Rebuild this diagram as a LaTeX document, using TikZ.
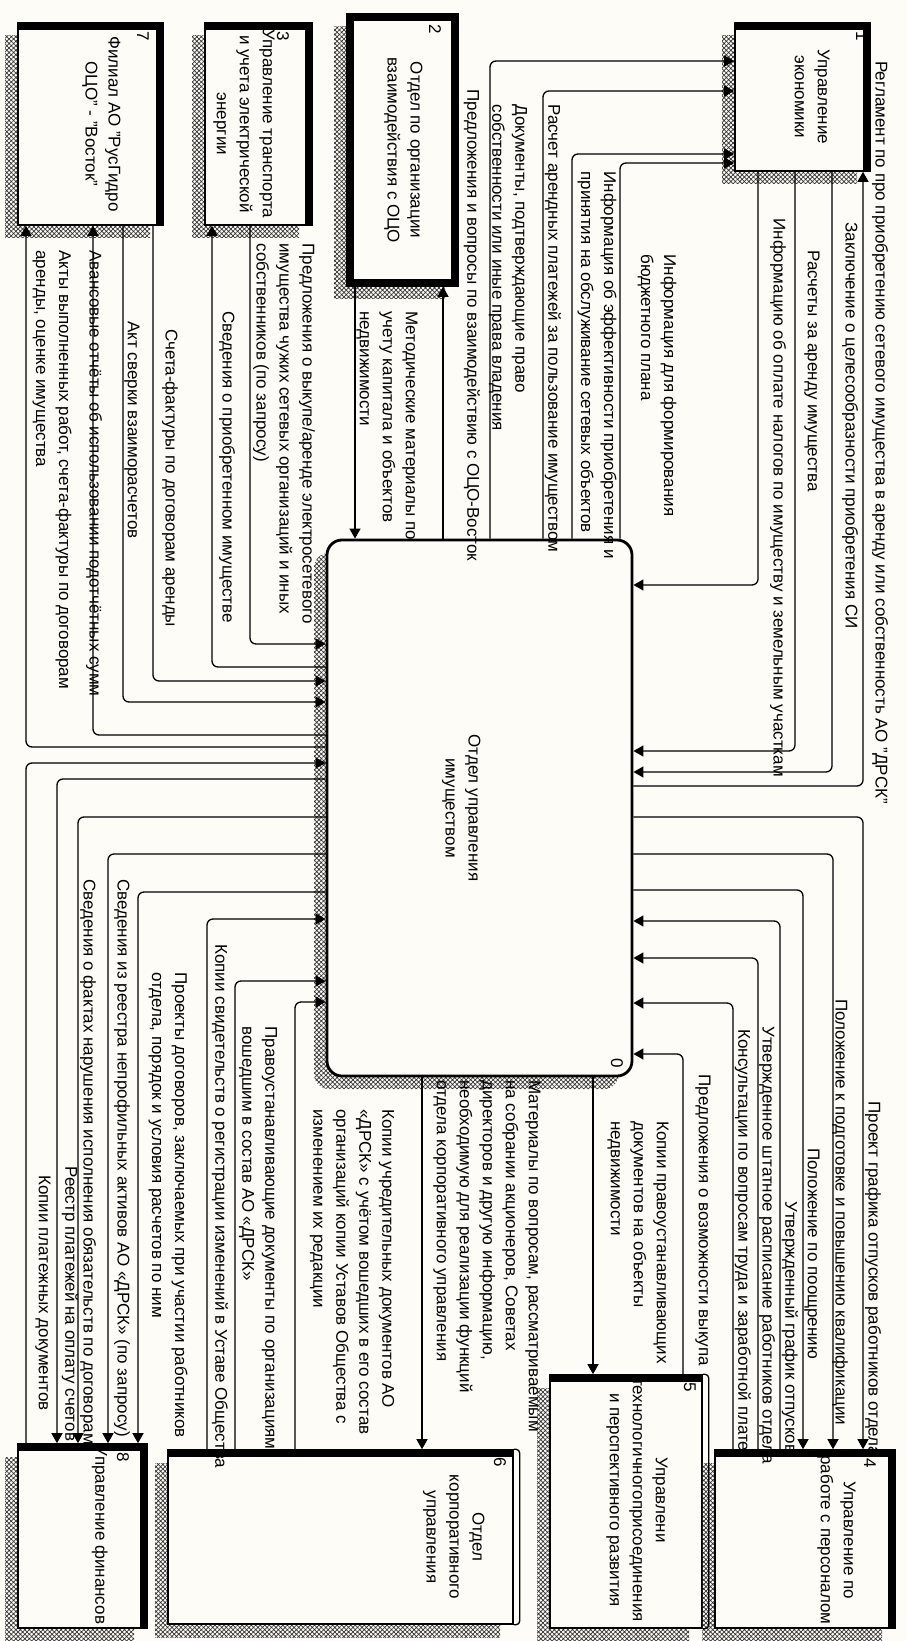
\documentclass[tikz,border=0pt]{standalone}
\usepackage{fontspec}
\setmainfont{Liberation Sans}
\usetikzlibrary{arrows.meta,fit,shadows,patterns.meta}
\definecolor{paper}{RGB}{253,252,246}

\begin{document}
\begin{tikzpicture}[x=0.5pt, y=-0.5pt,
    font=\fontsize{8.5}{11.5}\selectfont,
    box/.style={draw, line width=0.8pt, fill=paper, inner sep=0pt,
      general shadow={shadow xshift=-6.5pt, shadow yshift=-6.5pt,
        pattern={Hatch[angle=45,distance=1.6pt,line width=0.35pt]}, pattern color=black!80}},
    heavy/.style={path picture={\draw[line width=7pt] (path picture bounding box.north west)
        -- (path picture bounding box.north east) -- (path picture bounding box.south east);}},
    heavyall/.style={path picture={\draw[line width=7pt] (path picture bounding box.north west)
        rectangle (path picture bounding box.south east);}},
    heavytop/.style={path picture={\draw[line width=7pt] (path picture bounding box.north west)
        -- (path picture bounding box.north east);}},
    btxt/.style={rotate=-90, anchor=north, align=center, inner sep=0pt},
    lab/.style={rotate=-90, anchor=west, align=left, inner sep=0pt},
    num/.style={rotate=-90, inner sep=0pt},
    ln/.style={line width=0.65pt, rounded corners=3pt},
    arr/.style={ln, -{Triangle[length=5pt,width=5.5pt]}}
]
\useasboundingbox[fill=paper] (0,0) rectangle (907,1641);

% boxes
\node[box, heavy, fit={(18,23) (163,225)}] (b7) {};
\node[box, heavy, fit={(205,23) (312,225)}] (b3) {};
\node[box, heavyall, fit={(347,14) (458,286)}] (b2) {};
\node[box, heavy, fit={(735,23) (870,171)}] (b1) {};
\node[box, line width=1.4pt, rounded corners=7.5pt, fit={(327,540) (632,1076)}] (b0) {};
\node[box, heavytop, fit={(550,1375) (702,1628)}] (b5) {};
\node[box, heavy, fit={(715,1450) (895,1628)}] (b4) {};
\node[box, heavytop, fit={(168,1450) (513,1624)}] (b6) {};
\node[box, heavy, fit={(18,1444) (147,1628)}] (b8) {};
\draw[ln, rounded corners=2pt] (b5.north east) -| ([xshift=3pt]b5.south east) -- (b5.south east);
\draw[ln, rounded corners=2pt] (b6.north east) -| ([xshift=3pt]b6.south east) -- (b6.south east);

\node[btxt] (tb7) at (121,124) {Филиал АО "РусГидро\\ОЦО" - "Восток"};
\node[btxt] (tb3) at (275,124) {Управление транспорта\\и учета электрической\\энергии};
\node[btxt] (tb2) at (423,150) {Отдел по организации\\взаимодействия с ОЦО};
\node[btxt] (tb1) at (830,97) {Управление\\экономики};
\node[btxt] (tb0) at (481,808) {Отдел управления\\имуществом};
\node[btxt] (tb5) at (668,1500) {Управлени\\технологичногоприсоединения\\и перспективного развития};
\node[btxt] (tb4) at (856,1540) {Управление по\\работе с персоналом};
\node[btxt] (tb6) at (485,1537) {Отдел\\корпоративного\\управления};
\node[btxt] (tb8) at (108,1535) {Управление финансов};

\node[num] (n7) at (143,36) {7};
\node[num] (n3) at (283,36) {3};
\node[num] (n2) at (435,29) {2};
\node[num] (n1) at (862,36) {1};
\node[num] (n0) at (617,1063) {0};
\node[num] (n5) at (690,1387) {5};
\node[num] (n4) at (870,1463) {4};
\node[num] (n6) at (500,1462) {6};
\node[num] (n8) at (123,1457) {8};

% box 0 <-> box 1, box 2
\draw[arr] (b0.north -| 490,0) -- (490,61) -- (b1.west |- 0,61);
\draw[arr] (b0.north -| 543,0) -- (543,91) -- (b1.west |- 0,91);
\draw[arr] (b0.north -| 572,0) -- (572,154) -- (b1.west |- 0,154);
\draw[arr] (b0.north -| 620,0) -- (620,163) -- (b1.west |- 0,163);
\draw[arr] (b0.east |- 0,786) -- (863,786) -- (b1.south -| 863,0);
\draw[arr] (b1.south -| 832,0) -- (832,772) -- (b0.east |- 0,772);
\draw[arr] (b1.south -| 795,0) -- (795,751) -- (b0.east |- 0,751);
\draw[arr] (b1.south -| 758,0) -- (758,585) -- (b0.east |- 0,585);
\draw[arr] (b0.north -| 443,0) -- (b2.south -| 443,0);
\draw[arr] (b2.south -| 355,0) -- (b0.north -| 355,0);

% box 0 <-> box 3, box 7
\draw[arr] (b3.south -| 250,0) -- (250,644) -- (b0.west |- 0,644);
\draw[arr] (b0.west |- 0,667) -- (212,667) -- (b3.south -| 212,0);
\draw[arr] (b7.south -| 153,0) -- (153,681) -- (b0.west |- 0,681);
\draw[arr] (b7.south -| 123,0) -- (123,702) -- (b0.west |- 0,702);
\draw[arr] (b0.west |- 0,735) -- (93,735) -- (b7.south -| 93,0);
\draw[arr] (b0.west |- 0,747) -- (26,747) -- (b7.south -| 26,0);

% box 0 <-> box 8, box 6
\draw[arr] (b8.north -| 26,0) -- (26,763) -- (b0.west |- 0,763);
\draw[arr] (b0.west |- 0,779) -- (57,779) -- (b8.north -| 57,0);
\draw[arr] (b0.west |- 0,817) -- (78,817) -- (b8.north -| 78,0);
\draw[arr] (b0.west |- 0,854) -- (108,854) -- (b8.north -| 108,0);
\draw[arr] (b0.west |- 0,892) -- (138,892) -- (b8.north -| 138,0);
\draw[arr] (b6.north -| 207,0) -- (207,919) -- (b0.west |- 0,919);
\draw[arr] (b6.north -| 235,0) -- (235,981) -- (b0.west |- 0,981);
\draw[arr] (b6.north -| 295,0) -- (295,1002) -- (b0.west |- 0,1002);
\draw[arr] (b0.south -| 422,0) -- (b6.north -| 422,0);

% box 0 <-> box 5, box 4
\draw[arr] (b0.south -| 593,0) -- (b5.north -| 593,0);
\draw[arr] (b5.north -| 683,0) -- (683,1054) -- (b0.east |- 0,1054);
\draw[arr] (b0.east |- 0,817) -- (863,817) -- (b4.north -| 863,0);
\draw[arr] (b0.east |- 0,854) -- (833,854) -- (b4.north -| 833,0);
\draw[arr] (b0.east |- 0,890) -- (803,890) -- (b4.north -| 803,0);
\draw[arr] (b4.north -| 780,0) -- (780,921) -- (b0.east |- 0,921);
\draw[arr] (b4.north -| 758,0) -- (758,958) -- (b0.east |- 0,958);
\draw[arr] (b4.north -| 733,0) -- (733,1003) -- (b0.east |- 0,1003);

% labels
\node[lab] (l1) at (472,89) {Предложения и вопросы по взаимодействию с ОЦО-Восток};
\node[lab] (l2) at (508,104) {Документы, подтверждающие право\\собственности или иные права владения};
\node[lab] (l3) at (553,104) {Расчет арендных платежей за пользование имуществом};
\node[lab] (l4) at (597,171) {Информация об эффективности приобретения и\\принятия на обслуживание сетевых объектов};
\node[lab] (l5) at (657,254) {Информация для формирования\\бюджетного плана};
\node[lab] (l6) at (880,61) {Регламент по про приобретению сетевого имущества в аренду или собственность АО "ДРСК"};
\node[lab] (l7) at (850,222) {Заключение о целесообразности приобретения СИ};
\node[lab] (l8) at (812,250) {Расчеты за аренду имущества};
\node[lab] (l9) at (778,218) {Информацию об оплате налогов по имуществу и земельным участкам};
\node[lab] (l10) at (387,311) {Методические материалы по\\учету капитала и объектов\\недвижимости};
\node[lab] (l11) at (284,243) {Предложения о выкупе/аренде электросетевого\\имущества чужих сетевых организаций и иных\\собственников (по запросу)};
\node[lab] (l12) at (227,311) {Сведения о приобретенном имуществе};
\node[lab] (l13) at (170,329) {Счета-фактуры по договорам аренды};
\node[lab] (l14) at (132,321) {Акт сверки взаиморасчетов};
\node[lab] (l15) at (94,250) {Авансовые отчёты об использовании подотчётных сумм};
\node[lab] (l16) at (52,250) {Акты выполненных работ, счета-фактуры по договорам\\аренды, оценке имущества};
\node[lab] (l17) at (43,1175) {Копии платежных документов};
\node[lab] (l18) at (70,1166) {Реестр платежей на оплату счетов};
\node[lab] (l19) at (88,879) {Сведения о фактах нарушения исполнения обязательств по договорам};
\node[lab] (l20) at (122,879) {Сведения из реестра непрофильных активов АО «ДРСК» (по запросу)};
\node[lab] (l21) at (168,972) {Проекты договоров, заключаемых при участии работников\\отдела, порядок и условия расчетов по ним};
\node[lab] (l22) at (220,944) {Копии свидетельств о регистрации изменений в Уставе Общества};
\node[lab] (l23) at (258,1026) {Правоустанавливающие документы по организациям,\\вошедшим в состав АО «ДРСК»};
\node[lab] (l24) at (352,1109) {Копии учредительных документов АО\\«ДРСК» с учётом вошедших в его состав\\организаций копии Уставов Общества с\\изменением их редакции};
\node[lab] (l25) at (487,1080) {Материалы по вопросам, рассматриваемым\\на собрании акционеров, Советах\\директоров и другую информацию,\\необходимую для реализации функций\\отдела корпоративного управления};
\node[lab] (l26) at (638,1121) {Копии правоустанавливающих\\документов на объекты\\недвижимости};
\node[lab] (l27) at (703,1074) {Предложения о возможности выкупа};
\node[lab] (l28) at (743,1029) {Консультации по вопросам труда и заработной плате};
\node[lab] (l29) at (767,1026) {Утвержденное штатное расписание работников отдела};
\node[lab] (l30) at (790,1201) {Утвержденный график отпусков};
\node[lab] (l31) at (812,1148) {Положение по поощрению};
\node[lab] (l32) at (840,999) {Положение к подготовке и повышению квалификации};
\node[lab] (l33) at (873,1101) {Проект графика отпусков работников отдела};
\end{tikzpicture}
\end{document}
